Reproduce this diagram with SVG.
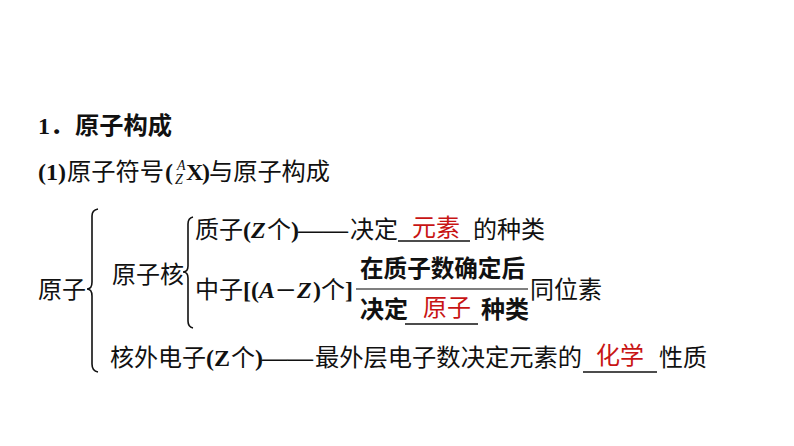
<svg xmlns="http://www.w3.org/2000/svg" width="794" height="446" viewBox="0 0 794 446">
<style>
text{font-size:24px;fill:#111}
.cn{font-family:"Noto Sans CJK SC","Noto Sans",sans-serif;font-weight:400}
.cnb{font-family:"Noto Sans CJK SC","Noto Sans",sans-serif;font-weight:700}
.lb{font-family:"Liberation Serif","Noto Sans CJK SC",serif;font-weight:700}
.lbi{font-family:"Liberation Serif",serif;font-weight:700;font-style:italic}
.li{font-family:"Liberation Serif",serif;font-style:italic}
.red{fill:#c81414}
.brace{fill:none;stroke:#111;stroke-width:1.6}
.ul{stroke:#111;stroke-width:1.4}
</style>
<rect width="794" height="446" fill="#fff"/>
<g id="title">
<text class="lb" x="38" y="134">1</text>
<text class="cnb" x="50" y="134">．</text>
<text class="cnb" x="75" y="134" textLength="97" lengthAdjust="spacingAndGlyphs">原子构成</text>
</g>
<g id="subtitle">
<text class="lb" x="38" y="180">(1)</text>
<text class="cn" x="67" y="180" textLength="97" lengthAdjust="spacingAndGlyphs">原子符号</text>
<text class="lb" x="165" y="180">(</text>
<text class="li" x="177" y="170" style="font-size:14px">A</text>
<text class="li" x="175" y="184" style="font-size:14px">Z</text>
<text class="lb" x="186" y="180">X</text>
<text class="lb" x="202" y="180">)</text>
<text class="cn" x="209" y="180" textLength="121" lengthAdjust="spacingAndGlyphs">与原子构成</text>
</g>
<g id="connectors">
<path class="brace" d="M98 209 Q92 210 92 216 L92 282 Q92 289 87 289 Q92 289 92 296 L92 364 Q92 371 98 372"/>
<path class="brace" d="M193 217 Q188 218 188 224 L188 266 Q188 272 183 272 Q188 272 188 278 L188 321 Q188 327 193 328"/>
</g>
<g id="atom">
<text class="cn" x="38" y="298">原子</text>
</g>
<g id="nucleus">
<text class="cn" x="112" y="283">原子核</text>
</g>
<g id="proton">
<text class="cn" x="195" y="238">质子</text>
<text class="lb" x="243" y="238">(</text>
<text class="lbi" x="251" y="238">Z</text>
<text class="cn" x="267" y="238">个</text>
<text class="lb" x="291" y="238">)</text>
<text class="lb" x="298" y="238" textLength="50" lengthAdjust="spacingAndGlyphs">——</text>
<text class="cn" x="350" y="238">决定</text>
<line class="ul" x1="398" y1="241" x2="470" y2="241"/>
<text class="cn red" x="412" y="236">元素</text>
<text class="cn" x="473" y="238">的种类</text>
</g>
<g id="neutron">
<text class="cn" x="195" y="298">中子</text>
<text class="lb" x="243" y="298">[(</text>
<text class="lbi" x="259" y="298">A</text>
<text class="lb" x="276" y="298" textLength="20" lengthAdjust="spacingAndGlyphs">−</text>
<text class="lbi" x="297" y="298">Z</text>
<text class="lb" x="313" y="298">)</text>
<text class="cn" x="321" y="298">个</text>
<text class="lb" x="345" y="298">]</text>
<line x1="356" y1="289" x2="528" y2="289" stroke="#555" stroke-width="1.4"/>
<text class="cnb" x="360" y="277" textLength="165" lengthAdjust="spacingAndGlyphs">在质子数确定后</text>
<text class="cnb" x="360" y="318">决定</text>
<line class="ul" x1="405" y1="324" x2="478" y2="324"/>
<text class="cn red" x="423" y="316">原子</text>
<text class="cnb" x="481" y="318">种类</text>
<text class="cn" x="530" y="298">同位素</text>
</g>
<g id="electron">
<text class="cn" x="110" y="366">核外电子</text>
<text class="lb" x="206" y="366">(</text>
<text class="lb" x="214" y="366">Z</text>
<text class="cn" x="231" y="366">个</text>
<text class="lb" x="255" y="366">)</text>
<text class="lb" x="262" y="366" textLength="51" lengthAdjust="spacingAndGlyphs">——</text>
<text class="cn" x="315" y="366" textLength="267" lengthAdjust="spacingAndGlyphs">最外层电子数决定元素的</text>
<line class="ul" x1="583" y1="372" x2="657" y2="372"/>
<text class="cn red" x="596" y="364">化学</text>
<text class="cn" x="659" y="366">性质</text>
</g>
</svg>
